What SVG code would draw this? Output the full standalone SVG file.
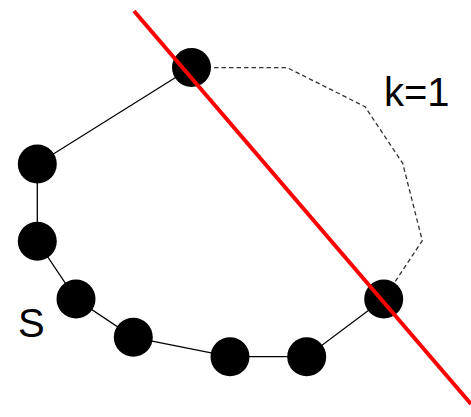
<svg xmlns="http://www.w3.org/2000/svg" width="471" height="417" viewBox="0 0 471 417">
<style>
.node{fill:#000}
.edge{stroke:#000;stroke-width:1.3;fill:none}
.dash{stroke:#333;stroke-width:1.3;fill:none;stroke-dasharray:4.5 3}
.cut{stroke:#f00;stroke-width:4;fill:none}
.lbl{font-family:"Liberation Sans",Arial,sans-serif;font-size:40px;fill:#000}
</style>
<rect width="471" height="417" fill="#fff"/>
<g id="connectors">
<polyline class="edge" points="191.5,67.5 37.3,164 37.3,241.3 76,299 133.3,337.3 230,356.7 306.7,356.7 383.7,299"/>
<polyline class="dash" points="191.5,67.5 287.3,67.7 365,106.7 402.7,163.3 422.3,240.7 383.7,299"/>
</g>
<g id="n1"><circle class="node" cx="191.5" cy="67.5" r="19.5"/></g>
<g id="n2"><circle class="node" cx="37.3" cy="164" r="19.5"/></g>
<g id="n3"><circle class="node" cx="37.3" cy="241.3" r="19.5"/></g>
<g id="n4"><circle class="node" cx="76" cy="299" r="19.5"/></g>
<g id="n5"><circle class="node" cx="133.3" cy="337.3" r="19.5"/></g>
<g id="n6"><circle class="node" cx="230" cy="356.7" r="19.5"/></g>
<g id="n7"><circle class="node" cx="306.7" cy="356.7" r="19.5"/></g>
<g id="n8"><circle class="node" cx="383.7" cy="299" r="19.5"/></g>
<line id="cut" class="cut" x1="134" y1="11" x2="471" y2="404"/>
<text class="lbl" x="384" y="106">k=1</text>
<text class="lbl" x="18" y="337">S</text>
</svg>
